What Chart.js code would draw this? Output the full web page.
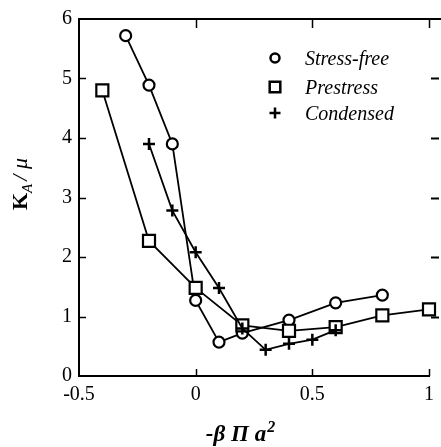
<!DOCTYPE html>
<html><head><meta charset="utf-8">
<script src="https://cdn.jsdelivr.net/npm/chart.js@4"></script>
<style>html,body{margin:0;padding:0;background:#fff}#wrap{width:441px;height:447px;position:relative}</style>
</head><body><div id="wrap"><canvas id="c" width="441" height="447"></canvas></div>
<script>
// Data
const stressFreeX = [-0.3, -0.2, -0.1, 0.0, 0.1, 0.2, 0.4, 0.6, 0.8];
const stressFreeY = [5.72, 4.89, 3.90, 1.27, 0.57, 0.72, 0.94, 1.23, 1.36];
const prestressX  = [-0.4, -0.2, 0.0, 0.2, 0.4, 0.6, 0.8, 1.0];
const prestressY  = [4.80, 2.27, 1.48, 0.85, 0.76, 0.82, 1.02, 1.12];
const condensedX  = [-0.2, -0.1, 0.0, 0.1, 0.2, 0.3, 0.4, 0.5, 0.6];
const condensedY  = [3.90, 2.78, 2.08, 1.48, 0.80, 0.44, 0.54, 0.61, 0.77];
const seriesNames = ["Stress-free", "Prestress", "Condensed"];
const xTicks = [-0.5, 0, 0.5, 1];
const yTicks = [0, 1, 2, 3, 4, 5, 6];

const pts = (xs, ys) => xs.map((x, i) => ({x: x, y: ys[i]}));
const SERIF = '"Liberation Serif", "Times New Roman", serif';

const base = {showLine: true, borderColor: '#000', borderWidth: 1.8, backgroundColor: '#fff',
  pointBorderColor: '#000', pointBackgroundColor: '#fff', clip: false};
const datasets = [
  Object.assign({}, base, {label: seriesNames[2], data: pts(condensedX, condensedY), pointStyle: 'cross', pointRadius: 6, pointBorderWidth: 2.5}),
  Object.assign({}, base, {label: seriesNames[1], data: pts(prestressX, prestressY), pointStyle: 'rect', pointRadius: 8.5, pointBorderWidth: 2.2}),
  Object.assign({}, base, {label: seriesNames[0], data: pts(stressFreeX, stressFreeY), pointStyle: 'circle', pointRadius: 5.5, pointBorderWidth: 2.2}),
];

const decor = {
  id: 'decor',
  afterDraw(chart) {
    const ctx = chart.ctx, a = chart.chartArea;
    const xs = chart.scales.x, ys = chart.scales.y;
    ctx.save();
    ctx.strokeStyle = '#000';
    ctx.lineWidth = 2;
    ctx.beginPath(); ctx.moveTo(a.left, a.top); ctx.lineTo(441, a.top); ctx.stroke();
    ctx.lineWidth = 1.5;
    xTicks.forEach(v => {
      const px = Math.round(xs.getPixelForValue(v)) + 0.5;
      if (v > xTicks[0]) {
        ctx.beginPath(); ctx.moveTo(px, a.bottom); ctx.lineTo(px, a.bottom - 7); ctx.stroke();
        ctx.beginPath(); ctx.moveTo(px, a.top); ctx.lineTo(px, a.top + 9); ctx.stroke();
      }
    });
    yTicks.forEach(v => {
      if (v === 0 || v === 6) return;
      const py = Math.round(ys.getPixelForValue(v)) + 0.5;
      ctx.lineWidth = 1.5;
      ctx.beginPath(); ctx.moveTo(a.left, py); ctx.lineTo(a.left + 7, py); ctx.stroke();
      ctx.lineWidth = 2;
      ctx.beginPath(); ctx.moveTo(a.right + 2, py); ctx.lineTo(a.right + 10, py); ctx.stroke();
    });
    // legend
    const styles = [
      {pointStyle: 'circle', radius: 4.5, borderWidth: 2.5},
      {pointStyle: 'rect', radius: 7.5, borderWidth: 2.5},
      {pointStyle: 'cross', radius: 5.5, borderWidth: 2.5},
    ];
    const ly = [58, 87, 113];
    styles.forEach((s, i) => {
      ctx.strokeStyle = '#000'; ctx.fillStyle = '#fff';
      ctx.lineWidth = s.borderWidth;
      Chart.helpers.drawPoint(ctx, {pointStyle: s.pointStyle, radius: s.radius, borderWidth: s.borderWidth, rotation: 0}, 275, ly[i]);
      ctx.fillStyle = '#000';
      ctx.font = 'italic 20px ' + SERIF;
      ctx.textAlign = 'left'; ctx.textBaseline = 'alphabetic';
      ctx.fillText(seriesNames[i], 305, ly[i] + 6.5);
    });
    // x axis title: -β Π a²
    ctx.fillStyle = '#000';
    ctx.textBaseline = 'alphabetic';
    ctx.font = 'bold italic 23px ' + SERIF;
    const main = '-\u03B2 \u03A0 a';
    const mw = ctx.measureText(main).width;
    ctx.font = 'bold italic 16px ' + SERIF;
    const sw = ctx.measureText('2').width;
    const x0 = 240 - (mw + sw) / 2;
    ctx.font = 'bold italic 23px ' + SERIF;
    ctx.fillText(main, x0, 441);
    ctx.font = 'bold italic 16px ' + SERIF;
    ctx.fillText('2', x0 + mw + 1, 432);
    // y axis title: K_A / μ
    ctx.save();
    ctx.translate(27, 210);
    ctx.rotate(-Math.PI / 2);
    ctx.font = 'bold 22px ' + SERIF;
    ctx.fillText('K', 0, 0);
    let w = ctx.measureText('K').width;
    ctx.font = 'italic 15px ' + SERIF;
    ctx.fillText('A', w, 5);
    w += ctx.measureText('A').width + 3;
    ctx.font = 'italic 22px ' + SERIF;
    ctx.fillText('/ \u03BC', w, 0);
    ctx.restore();
    ctx.restore();
  }
};

new Chart(document.getElementById('c'), {
  type: 'scatter',
  data: {datasets: datasets},
  options: {
    responsive: false, animation: false, devicePixelRatio: 1,
    layout: {padding: {top: 14, right: 10, left: 0, bottom: 0}},
    plugins: {legend: {display: false}, tooltip: {enabled: false}},
    scales: {
      x: {type: 'linear', min: -0.5, max: 1,
        afterBuildTicks: s => { s.ticks = xTicks.map(v => ({value: v})); },
        afterFit: s => { s.height = 71; },
        grid: {display: false, drawTicks: false},
        border: {display: true, color: '#000', width: 2},
        ticks: {color: '#000', padding: 7, maxRotation: 0, font: {family: SERIF, size: 20},
          callback: v => String(v)}},
      y: {type: 'linear', min: 0, max: 6,
        afterBuildTicks: s => { s.ticks = yTicks.map(v => ({value: v})); },
        afterFit: s => { s.width = 79; },
        grid: {display: false, drawTicks: false},
        border: {display: true, color: '#000', width: 2},
        ticks: {color: '#000', padding: 7, font: {family: SERIF, size: 20}}}
    }
  },
  plugins: [decor]
});
</script></body></html>
